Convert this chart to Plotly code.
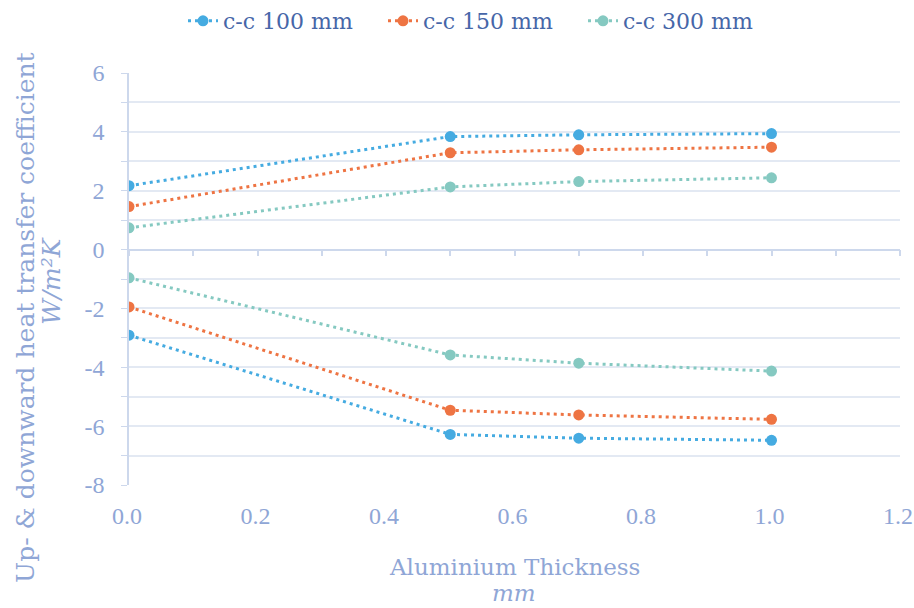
import plotly.graph_objects as go

thickness = [0.0, 0.5, 0.7, 1.0]
series_names = ["c-c 100 mm", "c-c 150 mm", "c-c 300 mm"]
upward_100 = [2.17, 3.84, 3.90, 3.94]
upward_150 = [1.46, 3.29, 3.39, 3.48]
upward_300 = [0.74, 2.13, 2.31, 2.44]
downward_100 = [-2.91, -6.28, -6.41, -6.48]
downward_150 = [-1.95, -5.46, -5.62, -5.77]
downward_300 = [-0.96, -3.58, -3.86, -4.13]
colors = ["#45ABE1", "#EE7443", "#85C9C1"]

x_tick_vals = [0.0, 0.2, 0.4, 0.6, 0.8, 1.0, 1.2]
x_tick_text = ["0.0", "0.2", "0.4", "0.6", "0.8", "1.0", "1.2"]
y_tick_vals = [-8, -6, -4, -2, 0, 2, 4, 6]
y_tick_text = ["-8", "-6", "-4", "-2", "0", "2", "4", "6"]

x_title_main = "Aluminium Thickness"
x_title_unit = "<i>mm</i>"
y_title_main = "Up- & downward heat transfer coefficient"
y_title_unit = "<i>W/m²K</i>"

tick_color = "#8FA6D6"
legend_color = "#4666A8"
grid_color = "#E3E9F3"
axis_color = "#CDD8EC"
serif = "DejaVu Serif"
tick_serif = "Liberation Serif"

fig = go.Figure()
ups = [upward_100, upward_150, upward_300]
downs = [downward_100, downward_150, downward_300]
for name, up, down, col in zip(series_names, ups, downs, colors):
    for i, vals in enumerate([up, down]):
        fig.add_trace(go.Scatter(
            x=thickness, y=vals, mode="lines+markers", name=name,
            legendgroup=name, showlegend=(i == 0),
            line=dict(color=col, width=3, dash="3px,4px"),
            marker=dict(color=col, size=11),
        ))

# invisible trace so the y=0 crossing axis is drawn
fig.add_trace(go.Scatter(x=[0, 1.2], y=[0, 0], xaxis="x2", mode="lines",
                         line=dict(width=0), showlegend=False, hoverinfo="skip"))

W, H = 914, 608
plot_left, plot_right = 129, 900
plot_top, plot_bottom = 72.5, 485.5
L = plot_left
R = W - plot_right
T = plot_top
B = H - plot_bottom
plot_w = plot_right - plot_left
plot_h = plot_bottom - plot_top


def px_x(p):
    return (p - plot_left) / plot_w


def px_y(p):
    return (plot_bottom - p) / plot_h


fig.update_layout(
    width=W, height=H,
    paper_bgcolor="white", plot_bgcolor="white",
    margin=dict(l=L, r=R, t=T, b=B, autoexpand=False),
    font=dict(family=serif, color=tick_color),
    legend=dict(orientation="h", x=483 / W, xanchor="center", xref="container",
                y=1 - 21 / H, yanchor="middle", yref="container",
                font=dict(size=22, color=legend_color, family=serif),
                traceorder="normal", entrywidth=155),
    xaxis=dict(range=[0, 1.2], tickvals=x_tick_vals, ticktext=x_tick_text, showgrid=False,
               zeroline=False, showline=False, ticks="", automargin=False,
               ticklabelstandoff=14, ticklabelshift=-2, ticklabeloverflow="allow",
               tickfont=dict(size=24, color=tick_color, family=tick_serif)),
    xaxis2=dict(range=[0, 1.2], overlaying="x", anchor="free", position=8 / 14,
                side="bottom", showticklabels=False, showgrid=False, zeroline=False,
                showline=True, linecolor=axis_color, linewidth=1.5, automargin=False,
                ticks="outside", ticklen=6, tickcolor=axis_color, tickwidth=1.5, dtick=0.1),
    yaxis=dict(range=[-8, 6], tickvals=y_tick_vals, ticktext=y_tick_text,
               showgrid=True, gridcolor=grid_color, gridwidth=1.5,
               zeroline=False, showline=True, linecolor=axis_color, linewidth=1.5,
               ticks="outside", ticklen=6, tickcolor=axis_color, automargin=False,
               ticklabelstandoff=12,
               minor=dict(dtick=1, showgrid=True, gridcolor=grid_color, gridwidth=1.5,
                          ticks="outside", ticklen=6, tickcolor=axis_color),
               tickfont=dict(size=24, color=tick_color, family=tick_serif)),
    annotations=[
        dict(text=y_title_main, xref="paper", yref="paper", x=px_x(26), y=px_y(318),
             textangle=-90, showarrow=False, xanchor="center", yanchor="middle",
             font=dict(size=25, color=tick_color, family=serif)),
        dict(text=y_title_unit, xref="paper", yref="paper", x=px_x(52), y=px_y(281),
             textangle=-90, showarrow=False, xanchor="center", yanchor="middle",
             font=dict(size=25, color=tick_color, family=serif)),
        dict(text=x_title_main, xref="paper", yref="paper", x=px_x(514), y=px_y(568),
             showarrow=False, xanchor="center", yanchor="middle",
             font=dict(size=23, color=tick_color, family=serif)),
        dict(text=x_title_unit, xref="paper", yref="paper", x=px_x(514), y=px_y(594),
             showarrow=False, xanchor="center", yanchor="middle",
             font=dict(size=23, color=tick_color, family=serif)),
    ],
)

fig.write_html("out.html", config={"displayModeBar": False},
               post_script="document.body.style.margin='0';")
